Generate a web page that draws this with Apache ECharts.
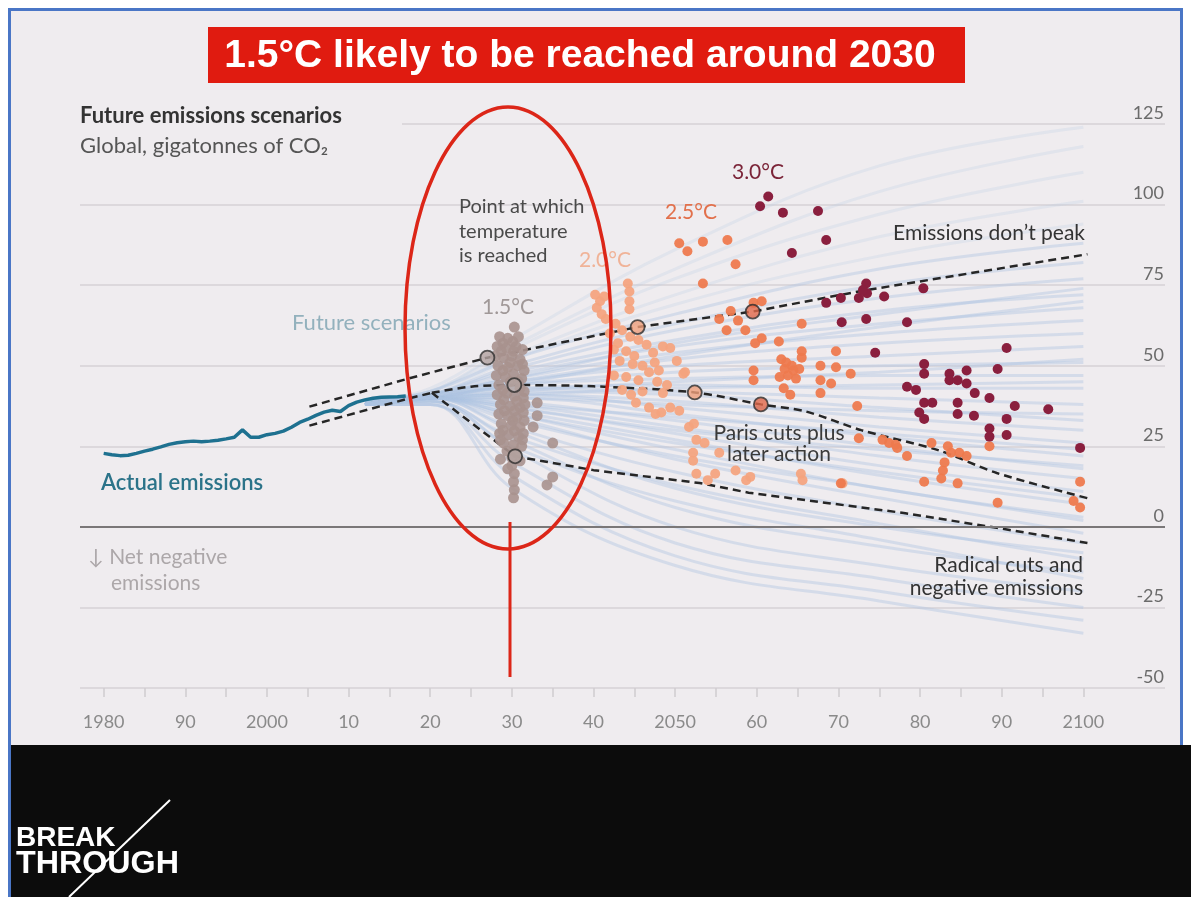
<!DOCTYPE html>
<html>
<head>
<meta charset="utf-8">
<title>1.5°C likely to be reached around 2030</title>
<script src="https://cdn.jsdelivr.net/npm/echarts@6.0.0/dist/echarts.min.js"></script>
<style>
  html, body { margin: 0; padding: 0; background: #fff; }
  #frame { position: absolute; left: 8px; top: 8px; width: 1169px; height: 889px;
    border: 3px solid #4a76c6; border-bottom: none; background: #efecef; }
  #band { position: absolute; left: 11px; top: 745px; width: 1180px; height: 152px; background: #0c0c0c; }
  #chart { position: absolute; left: 0; top: 0; width: 1191px; height: 897px; }
</style>
</head>
<body>
<div id="frame"></div>
<div id="band"></div>
<div id="chart"></div>
<script>
// x axis ticks / labels
const tickYears = [1980, 1985, 1990, 1995, 2000, 2005, 2010, 2015, 2020, 2025, 2030, 2035, 2040,
  2045, 2050, 2055, 2060, 2065, 2070, 2075, 2080, 2085, 2090, 2095, 2100];
const labelYears = [1980, 1990, 2000, 2010, 2020, 2030, 2040, 2050, 2060, 2070, 2080, 2090, 2100];
const yearLabels = ['1980', '90', '2000', '10', '20', '30', '40', '2050', '60', '70', '80', '90', '2100'];

// actual emissions, Gt CO2
const actualYears = [1980, 1981, 1982, 1983, 1984, 1985, 1986, 1987, 1988, 1989, 1990, 1991, 1992,
  1993, 1994, 1995, 1996, 1997, 1998, 1999, 2000, 2001, 2002, 2003, 2004, 2005, 2006, 2007, 2008,
  2009, 2010, 2011, 2012, 2013, 2014, 2015, 2016, 2017];
const actualValues = [22.8, 22.4, 22.1, 22.2, 22.8, 23.5, 24.1, 24.8, 25.6, 26.1, 26.4, 26.6, 26.4,
  26.6, 26.9, 27.3, 27.8, 30.1, 27.8, 27.8, 28.6, 29.0, 29.7, 30.9, 32.4, 33.4, 34.6, 35.6, 36.2,
  35.8, 37.6, 38.7, 39.4, 39.9, 40.2, 40.3, 40.4, 40.6];

// scenario fan (years and one row of values per scenario)
const fanYears = [2012, 2020, 2030, 2050, 2075, 2100];
const fanRows = [
  [39, 43, 58, 86, 112, 124], [39, 42, 56, 80, 104, 118], [39, 42, 55, 77, 97, 110],
  [39, 42, 53, 72, 90, 101], [39, 41, 52, 69, 84, 94], [39, 42, 52, 66, 80, 88],
  [39, 41, 50, 63, 75, 82], [39, 41, 49, 61, 71, 77], [38, 41, 46, 57, 66, 74],
  [39, 41, 48, 58, 67, 72], [38, 40, 44, 53, 62, 70], [38, 40, 47, 56, 63, 68],
  [39, 41, 46, 54, 60, 64], [38, 40, 45, 52, 57, 60], [39, 41, 45, 50, 53, 56],
  [38, 40, 42, 45, 48, 52], [38, 40, 44, 48, 50, 51], [38, 40, 44, 46, 47, 47],
  [38, 40, 41, 43, 44, 45], [39, 41, 43, 44, 43, 43], [38, 40, 43, 42, 40, 38],
  [38, 40, 40, 38, 36, 35], [38, 40, 42, 41, 37, 33], [38, 40, 41, 39, 34, 30],
  [38, 40, 41, 37, 31, 26], [38, 40, 38, 34, 29, 24], [38, 40, 40, 35, 28, 22],
  [38, 40, 37, 30, 24, 19], [38, 40, 39, 33, 25, 18], [38, 40, 38, 31, 22, 15],
  [38, 40, 37, 29, 19, 11], [38, 40, 35, 26, 17, 9], [38, 40, 36, 27, 16, 7],
  [38, 40, 35, 24, 12, 3], [38, 40, 33, 22, 12, 2], [38, 40, 34, 21, 9, -2],
  [38, 40, 31, 17, 5, -5], [38, 40, 30, 12, 0, -8], [38, 39, 28, 13, 1, -10],
  [38, 39, 27, 6, -6, -14], [38, 39, 25, 8, -4, -16], [38, 39, 24, 0, -12, -20],
  [38, 38, 20, -5, -16, -25], [38, 38, 16, -9, -20, -29], [38, 38, 12, -12, -23, -33]
];

// dashed pathways [year, value]
const dontPeak = [[2005.2, 37.3], [2017.3, 46], [2027, 52.5], [2045.4, 62], [2059.5, 66.8], [2072.8, 73.2], [2100.5, 84.6]];
const shortLower = [[2005.2, 31.4], [2017.3, 39.8], [2020.2, 41.6]];
const parisLater = [[2020.2, 41.6], [2025, 43.5], [2030.3, 44], [2040, 43.6], [2052.4, 41.7], [2060.5, 38],
  [2066, 35.8], [2072.8, 30], [2082.2, 23.8], [2089.4, 16.7], [2100.5, 8.9]];
const radicalCuts = [[2020.2, 41.6], [2030.4, 21.9], [2040, 17.6], [2053, 13.6], [2059, 10.6],
  [2078, 4.3], [2089.4, -0.3], [2100.5, -5]];

// points where each temperature is reached on the pathways
const milestones15 = [[2027, 52.5], [2030.3, 44], [2030.4, 21.9]];
const milestones20 = [[2045.4, 62], [2052.4, 41.7]];
const milestones25 = [[2059.5, 66.8], [2060.5, 38]];

// scenario points, [year, value]
const points15 = [[2030.3, 62], [2028.5, 59], [2029.5, 58.5], [2030.8, 59], [2028.2, 56], [2029.3, 55.5],
  [2030.5, 56], [2031.3, 55], [2028.0, 53], [2029.0, 52.5], [2030.0, 53], [2031.0, 52], [2028.3, 50],
  [2029.5, 49.5], [2030.7, 50], [2031.5, 48.5], [2028.1, 47], [2029.2, 46.5], [2031.2, 46], [2028.4, 44],
  [2029.4, 41.5], [2031.0, 43], [2028.2, 41], [2030.3, 40.5], [2031.4, 40], [2028.6, 38], [2029.8, 37.5],
  [2031.0, 37], [2028.4, 35], [2029.5, 34.5], [2030.6, 34], [2031.5, 33], [2028.7, 32], [2029.9, 31.5],
  [2031.0, 31], [2028.5, 29], [2029.6, 28.5], [2030.8, 28], [2029.0, 26], [2030.2, 25.5], [2031.2, 25],
  [2029.4, 23.5], [2030.5, 23], [2028.6, 21], [2030.0, 19], [2030.3, 16.5], [2030.2, 14], [2030.3, 11.5],
  [2030.2, 9], [2033.1, 38.5], [2033.1, 34.5], [2032.6, 31], [2035.0, 26], [2035.0, 15.5], [2034.3, 13],
  [2028.9, 57], [2030.1, 57.5], [2028.7, 54.5], [2030.2, 54.5], [2029.8, 51], [2031.3, 50.5], [2028.9, 48.5],
  [2030.2, 47.5], [2029.8, 45], [2030.8, 45], [2028.9, 42.5], [2031.5, 42], [2029.0, 39.5], [2030.6, 39],
  [2031.6, 38], [2029.1, 36], [2030.3, 36], [2031.4, 35.5], [2030.1, 33], [2028.9, 30], [2030.3, 29.8],
  [2031.4, 29], [2028.6, 27], [2031.3, 27], [2030.0, 21.5], [2029.5, 18], [2031.0, 20.5]];
const points20 = [[2040.2, 72], [2040.8, 70], [2040.4, 68], [2041.3, 71.5], [2041.0, 66], [2044.2, 75.5],
  [2044.4, 73], [2044.4, 70], [2044.4, 67.5], [2041.5, 64.5], [2042.7, 63], [2043.5, 61], [2042.0, 60],
  [2044.5, 59], [2045.5, 58], [2043.0, 57], [2046.5, 56.5], [2042.5, 55], [2044.0, 54.5], [2045.0, 53],
  [2047.3, 54], [2048.5, 56], [2049.4, 55.5], [2043.2, 51.5], [2044.8, 50.5], [2046.0, 50], [2047.5, 51],
  [2050.2, 51.5], [2048.0, 48.5], [2046.8, 48], [2051.2, 48], [2042.5, 47], [2044.0, 46.5], [2045.5, 45.5],
  [2047.8, 45], [2049.0, 44], [2051.0, 47.5], [2043.5, 42.5], [2046.0, 42], [2048.5, 41.5], [2044.6, 41],
  [2045.2, 38.5], [2046.8, 37], [2047.6, 35], [2049.4, 37], [2048.3, 35.5], [2050.5, 36], [2051.7, 31],
  [2052.3, 32], [2052.6, 27], [2053.6, 26], [2052.2, 23], [2052.2, 20.5], [2052.6, 16.5], [2055.4, 23],
  [2054.9, 16.5], [2054.0, 14.5], [2057.4, 17.5], [2058.7, 14.5], [2059.2, 15.5], [2065.4, 16.5],
  [2065.6, 14.5], [2070.5, 13.5]];
const points25 = [[2050.5, 88], [2051.5, 85.5], [2053.4, 88.5], [2056.4, 89], [2057.4, 81.5], [2053.4, 75.5],
  [2056.8, 67], [2059.6, 69.5], [2060.6, 70], [2057.7, 64], [2055.4, 64.5], [2056.3, 61], [2058.6, 61],
  [2059.8, 57], [2060.6, 58.5], [2062.7, 57.5], [2065.5, 63], [2065.5, 54.5], [2065.5, 52.5], [2069.7, 54.5],
  [2069.7, 49.5], [2067.8, 50], [2067.8, 45.5], [2067.8, 41.5], [2069.1, 44.5], [2071.5, 47.5], [2072.3, 37.5],
  [2072.5, 27.5], [2070.3, 13.5], [2063.0, 52], [2063.6, 51], [2064.3, 50], [2063.4, 49], [2064.5, 48.5],
  [2063.8, 47], [2064.8, 46], [2062.8, 46.5], [2065.2, 49], [2059.6, 48.5], [2059.6, 45.5], [2063.3, 43],
  [2064.1, 41], [2075.4, 27], [2076.2, 26], [2077.0, 25.5], [2077.2, 24.5], [2078.4, 22], [2081.4, 26],
  [2083.4, 25], [2083.8, 23], [2084.8, 23], [2085.7, 22], [2083.0, 20], [2082.8, 17.5], [2082.6, 15],
  [2080.5, 14], [2084.6, 13.5], [2088.5, 25], [2089.5, 7.5], [2099.6, 14], [2098.8, 8], [2099.6, 6]];
const points30 = [[2061.4, 102.5], [2060.4, 99.5], [2063.2, 97.5], [2067.5, 98], [2068.5, 89], [2064.3, 85],
  [2068.5, 69.5], [2070.3, 71], [2073.4, 75.5], [2073.5, 72.5], [2075.6, 71.5], [2080.4, 74], [2072.5, 71],
  [2073.0, 73.5], [2070.4, 63.5], [2073.4, 64.5], [2078.4, 63.5], [2074.5, 54], [2080.5, 50.5], [2080.5, 47.5],
  [2078.4, 43.5], [2079.5, 42.5], [2080.5, 38.5], [2081.5, 38.5], [2080.5, 33.5], [2083.6, 47.5], [2083.6, 45.5],
  [2084.6, 45.5], [2085.7, 48.5], [2085.7, 44.5], [2086.7, 41.5], [2084.6, 38.5], [2084.6, 35], [2086.6, 34.5],
  [2088.5, 40], [2091.6, 37.5], [2090.6, 33.5], [2088.5, 30.5], [2088.5, 28], [2090.6, 28.5], [2090.6, 55.5],
  [2089.5, 49], [2095.7, 36.5], [2099.6, 24.5], [2079.9, 35.5]];

const FONT = 'Lato, "Open Sans", sans-serif';
const BG = '#efecef';

const chart = echarts.init(document.getElementById('chart'), null, { renderer: 'canvas' });

const series = [];
fanRows.forEach(function (row) {
  const high = row[row.length - 1] > 90;
  series.push({
    type: 'line', silent: true, symbol: 'none', smooth: 0.4, z: 1,
    lineStyle: { color: high ? 'rgba(185,205,228,0.25)' : 'rgba(172,196,224,0.4)', width: 3 },
    data: fanYears.map(function (y, i) { return [y, row[i]]; })
  });
});
series.push({
  type: 'line', silent: true, symbol: 'none', z: 3,
  lineStyle: { color: '#1e7190', width: 3.5 },
  data: actualYears.map(function (y, i) { return [y, actualValues[i]]; }),
  markLine: {
    silent: true, symbol: 'none', label: { show: false },
    lineStyle: { color: '#7a7778', width: 2, type: 'solid' },
    data: [{ yAxis: 0 }]
  }
});
[dontPeak, shortLower, radicalCuts].forEach(function (d) {
  series.push({ type: 'line', silent: true, symbol: 'none', z: 4,
    lineStyle: { color: '#262626', width: 2.5, type: [8, 5] }, data: d });
});
series.push({ type: 'line', silent: true, symbol: 'none', z: 4, smooth: 0.3,
  lineStyle: { color: '#262626', width: 2.5, type: [8, 5] }, data: parisLater });

function dots(d, color, opacity, size) {
  return { type: 'scatter', silent: true, symbolSize: size, z: 5, data: d,
    itemStyle: { color: color, opacity: opacity } };
}
series.push(dots(points15, '#a8928e', 0.9, 11));
series.push(dots(points20, '#f4a47f', 0.95, 10));
series.push(dots(points25, '#ee7a4e', 0.95, 10));
series.push(dots(points30, '#8a1f3e', 1, 10));

function rings(d, color) {
  return { type: 'scatter', silent: true, symbolSize: 14, z: 6, data: d,
    itemStyle: { color: color, borderColor: '#2e2e2e', borderWidth: 1.8 } };
}
series.push(rings(milestones15, '#b4a4a1'));
series.push(rings(milestones20, '#f0a07c'));
series.push(rings(milestones25, '#e2694a'));

function txt(text, x, y, opts) {
  return { type: 'text', z: 50, silent: true,
    style: Object.assign({ text: text, x: x, y: y, fill: '#3a3a3a', font: '21px ' + FONT,
      textAlign: 'left', textVerticalAlign: 'middle' }, opts || {}) };
}
const LOGO = '"Liberation Sans", Arial, sans-serif';

const graphics = [
  // hide the left part of the top gridline behind the subtitle
  { type: 'rect', z: 1, silent: true, shape: { x: 76, y: 120, width: 326, height: 8 }, style: { fill: BG } },
  { type: 'rect', z: 40, silent: true, shape: { x: 208, y: 27, width: 757, height: 56 }, style: { fill: '#e01b10' } },
  txt('1.5°C likely to be reached around 2030', 580, 56,
    { fill: '#ffffff', font: 'bold 39px ' + LOGO, textAlign: 'center' }),
  txt('Future emissions scenarios', 80, 116, { fill: '#333', font: 'bold 22px ' + FONT }),
  txt('Global, gigatonnes of CO₂', 80, 146, { fill: '#555', font: '22px ' + FONT }),
  txt('Point at which', 459, 207, { fill: '#4a4a4a', font: '20px ' + FONT }),
  txt('temperature', 459, 232, { fill: '#4a4a4a', font: '20px ' + FONT }),
  txt('is reached', 459, 256, { fill: '#4a4a4a', font: '20px ' + FONT }),
  txt('3.0°C', 758, 172, { fill: '#7b2438', textAlign: 'center' }),
  txt('2.5°C', 691, 212, { fill: '#e2704b', textAlign: 'center' }),
  txt('2.0°C', 605, 260, { fill: '#f0b398', textAlign: 'center' }),
  txt('1.5°C', 508, 307, { fill: '#a09898', textAlign: 'center' }),
  txt('Emissions don’t peak', 1085, 233, { fill: '#333', textAlign: 'right' }),
  txt('Paris cuts plus', 779, 433, { fill: '#3a3a3a', textAlign: 'center' }),
  txt('later action', 779, 454, { fill: '#3a3a3a', textAlign: 'center' }),
  txt('Radical cuts and', 1083, 565, { fill: '#333', textAlign: 'right' }),
  txt('negative emissions', 1083, 588, { fill: '#333', textAlign: 'right' }),
  txt('Actual emissions', 101, 483, { fill: '#2b7389', font: '600 22px ' + FONT }),
  txt('Future scenarios', 292, 323, { fill: '#93b1bd', font: '22px ' + FONT }),
  txt('↓ Net negative', 88, 557, { fill: '#aca7a9' }),
  txt('emissions', 111, 583, { fill: '#aca7a9' }),
  // annotation ellipse and pointer
  { type: 'ellipse', z: 60, silent: true, shape: { cx: 508, cy: 328, rx: 103, ry: 221 },
    style: { fill: 'none', stroke: '#dc2618', lineWidth: 3.5 } },
  { type: 'line', z: 60, silent: true, shape: { x1: 510, y1: 522, x2: 510, y2: 677 },
    style: { stroke: '#dc2618', lineWidth: 3 } },
  // logo
  txt('BREAK', 16, 838, { fill: '#fff', font: 'bold 28px ' + LOGO }),
  { type: 'text', z: 50, silent: true, x: 16, y: 864, scaleX: 1.04,
    style: { text: 'THROUGH', x: 0, y: 0, fill: '#fff', font: 'bold 31px ' + LOGO, textAlign: 'left', textVerticalAlign: 'middle' } },
  { type: 'line', z: 60, silent: true, shape: { x1: 170, y1: 800, x2: 69, y2: 897 },
    style: { stroke: '#fff', lineWidth: 2 } }
];

chart.setOption({
  backgroundColor: 'transparent',
  animation: false,
  grid: { left: 80, right: 26, top: 124, bottom: 209, containLabel: false },
  xAxis: {
    type: 'value', min: 1977.1, max: 2110,
    axisLine: { show: false, onZero: false },
    splitLine: { show: false },
    axisTick: { show: true, customValues: tickYears, length: 9, lineStyle: { color: '#cfcbcf', width: 1.5 } },
    axisLabel: {
      customValues: labelYears, margin: 25, color: '#8a8a8a', fontSize: 18, fontFamily: FONT,
      formatter: function (v) { const i = labelYears.indexOf(Math.round(v)); return i >= 0 ? yearLabels[i] : ''; }
    }
  },
  yAxis: {
    type: 'value', min: -50, max: 125, interval: 25, position: 'right',
    axisLine: { show: false }, axisTick: { show: false },
    axisLabel: { inside: true, margin: 1, verticalAlign: 'bottom', padding: [0, 0, 2, 0],
      color: '#6b6b6b', fontSize: 18, fontFamily: FONT },
    splitLine: { lineStyle: { color: '#d6d2d6', width: 1.5 } }
  },
  series: series,
  graphic: { elements: graphics }
});
</script>
</body>
</html>
